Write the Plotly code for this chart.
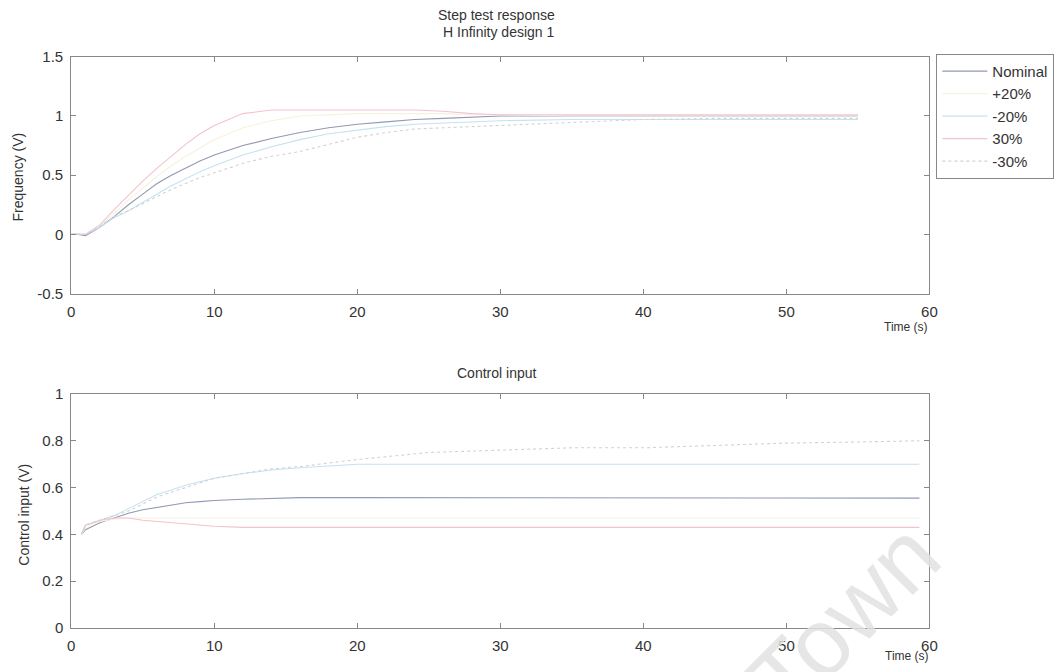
import plotly.graph_objects as go

# ---- step response (frequency) ----
t_top = [0, 0.5, 1, 2, 3, 4, 5, 6, 7, 8, 9, 10, 12, 14, 16, 18, 20, 22, 24, 26, 28, 30, 35, 40, 45, 50, 55]
freq_nominal = [0, 0, -0.01, 0.06, 0.15, 0.25, 0.34, 0.43, 0.50, 0.56, 0.62, 0.67, 0.75, 0.81, 0.86, 0.90, 0.93, 0.95, 0.97, 0.98, 0.99, 1.0, 1.0, 1.0, 1.0, 1.0, 1.0]
freq_plus20 = [0, 0, 0, 0.07, 0.18, 0.29, 0.39, 0.49, 0.58, 0.66, 0.73, 0.80, 0.90, 0.96, 1.0, 1.01, 1.02, 1.02, 1.02, 1.02, 1.01, 1.01, 1.0, 1.0, 1.0, 1.0, 1.0]
freq_minus20 = [0, 0, 0, 0.06, 0.14, 0.20, 0.27, 0.34, 0.41, 0.47, 0.53, 0.58, 0.67, 0.74, 0.80, 0.85, 0.88, 0.91, 0.93, 0.94, 0.95, 0.96, 0.97, 0.97, 0.97, 0.97, 0.97]
freq_plus30 = [0, 0, 0, 0.08, 0.21, 0.33, 0.45, 0.56, 0.66, 0.76, 0.85, 0.92, 1.02, 1.05, 1.05, 1.05, 1.05, 1.05, 1.05, 1.04, 1.02, 1.01, 1.01, 1.01, 1.01, 1.01, 1.01]
freq_minus30 = [0, 0, 0, 0.07, 0.15, 0.20, 0.26, 0.32, 0.38, 0.43, 0.48, 0.52, 0.60, 0.66, 0.70, 0.76, 0.82, 0.86, 0.89, 0.90, 0.91, 0.92, 0.95, 0.97, 0.98, 0.98, 0.98]

# ---- control input ----
t_bot = [0.7, 1, 1.5, 2, 3, 4, 5, 6, 7, 8, 9, 10, 12, 14, 16, 20, 25, 30, 35, 40, 45, 50, 55, 59.3]
ctrl_nominal = [0.40, 0.42, 0.435, 0.45, 0.47, 0.49, 0.505, 0.515, 0.525, 0.535, 0.54, 0.545, 0.55, 0.555, 0.557, 0.557, 0.557, 0.557, 0.557, 0.555, 0.555, 0.555, 0.555, 0.555]
ctrl_plus20 = [0.40, 0.43, 0.445, 0.455, 0.465, 0.47, 0.47, 0.47, 0.47, 0.47, 0.47, 0.47, 0.47, 0.47, 0.47, 0.47, 0.47, 0.47, 0.47, 0.47, 0.47, 0.47, 0.47, 0.47]
ctrl_minus20 = [0.40, 0.44, 0.45, 0.46, 0.48, 0.51, 0.54, 0.57, 0.59, 0.61, 0.625, 0.64, 0.66, 0.675, 0.685, 0.70, 0.70, 0.70, 0.70, 0.70, 0.70, 0.70, 0.70, 0.70]
ctrl_plus30 = [0.40, 0.44, 0.45, 0.46, 0.47, 0.47, 0.46, 0.455, 0.45, 0.445, 0.44, 0.435, 0.43, 0.43, 0.43, 0.43, 0.43, 0.43, 0.43, 0.43, 0.43, 0.43, 0.43, 0.43]
ctrl_minus30 = [0.40, 0.44, 0.45, 0.46, 0.48, 0.50, 0.53, 0.56, 0.58, 0.60, 0.62, 0.64, 0.66, 0.68, 0.69, 0.72, 0.75, 0.76, 0.77, 0.77, 0.78, 0.79, 0.795, 0.80]

series_names = ["Nominal", "+20%", "-20%", "30%", "-30%"]
series_colors = ["#9199b4", "#f6f1de", "#c4e2f2", "#f3c2cf", "#d2d2d2"]
series_dash = ["solid", "solid", "solid", "solid", "dot"]

freq_series = [freq_nominal, freq_plus20, freq_minus20, freq_plus30, freq_minus30]
ctrl_series = [ctrl_nominal, ctrl_plus20, ctrl_minus20, ctrl_plus30, ctrl_minus30]

FONT = "Liberation Sans, Arial, sans-serif"
W, H = 1064, 672


def px_x(x):
    return x / W


def px_y(y):
    return 1 - y / H


fig = go.Figure()
for name, col, dash, yv in zip(series_names, series_colors, series_dash, freq_series):
    fig.add_trace(go.Scatter(x=t_top, y=yv, mode="lines", name=name,
                             line=dict(color=col, width=1.1, dash=dash),
                             xaxis="x", yaxis="y"))
for name, col, dash, yv in zip(series_names, series_colors, series_dash, ctrl_series):
    fig.add_trace(go.Scatter(x=t_bot, y=yv, mode="lines", name=name, showlegend=False,
                             line=dict(color=col, width=1.1, dash=dash),
                             xaxis="x2", yaxis="y2"))

axis_common = dict(showgrid=False, zeroline=False, showline=True, linecolor="#888",
                   linewidth=1, mirror="ticks", ticks="inside", ticklen=5,
                   tickcolor="#888", ticklabelstandoff=4,
                   tickfont=dict(family=FONT, size=15, color="#333"))

x_dom = [px_x(68), px_x(936)]
fig.update_layout(
    width=W, height=H,
    margin=dict(l=0, r=0, t=0, b=0),
    paper_bgcolor="white", plot_bgcolor="white",
    font=dict(family=FONT, color="#333"),
    xaxis=dict(domain=x_dom, range=[0, 60], tickvals=[0, 10, 20, 30, 40, 50, 60],
               anchor="y", **axis_common),
    yaxis=dict(domain=[px_y(292), px_y(49)], range=[-0.5, 1.5],
               tickvals=[-0.5, 0, 0.5, 1, 1.5], ticktext=["-0.5", "0", "0.5", "1", "1.5"],
               anchor="x", **axis_common),
    xaxis2=dict(domain=x_dom, range=[0, 60], tickvals=[0, 10, 20, 30, 40, 50, 60],
                anchor="y2", **axis_common),
    yaxis2=dict(domain=[px_y(635), px_y(395)], range=[0, 1],
                tickvals=[0, 0.2, 0.4, 0.6, 0.8, 1], ticktext=["0", "0.2", "0.4", "0.6", "0.8", "1"],
                anchor="x2", **axis_common),
    legend=dict(x=px_x(943), y=px_y(46), xanchor="left", yanchor="top",
                bgcolor="white", bordercolor="#888", borderwidth=1,
                font=dict(family=FONT, size=15, color="#333"), itemwidth=45),
    showlegend=True,
)

titles = [
    ("Step test response", 498, 6),
    ("H Infinity design 1", 500, 24),
    ("Control input", 498, 373),
]
for text, x, y in titles:
    fig.add_annotation(xref="paper", yref="paper", x=px_x(x), y=px_y(y), text=text,
                       showarrow=False, xanchor="center", yanchor="middle",
                       font=dict(family=FONT, size=14, color="#333"))

# axis titles
fig.add_annotation(xref="paper", yref="paper", x=px_x(14), y=px_y(172), text="Frequency (V)",
                   showarrow=False, textangle=-90, xanchor="center", yanchor="middle",
                   font=dict(family=FONT, size=14, color="#333"))
fig.add_annotation(xref="paper", yref="paper", x=px_x(20), y=px_y(519), text="Control input (V)",
                   showarrow=False, textangle=-90, xanchor="center", yanchor="middle",
                   font=dict(family=FONT, size=14, color="#333"))
fig.add_annotation(xref="paper", yref="paper", x=px_x(937), y=px_y(326), text="Time (s)",
                   showarrow=False, xanchor="right", yanchor="middle",
                   font=dict(family=FONT, size=12, color="#333"))
fig.add_annotation(xref="paper", yref="paper", x=px_x(937), y=0, text="Time (s)",
                   showarrow=False, xanchor="right", yanchor="bottom", borderpad=0,
                   font=dict(family=FONT, size=12, color="#333"))

# faint source watermark
fig.add_annotation(xref="paper", yref="paper", x=px_x(850), y=px_y(624), text="Town",
                   showarrow=False, textangle=-45, xanchor="center", yanchor="middle",
                   font=dict(family=FONT, size=95, color="rgba(226,226,226,0.85)"))

fig.write_html("out.html")
